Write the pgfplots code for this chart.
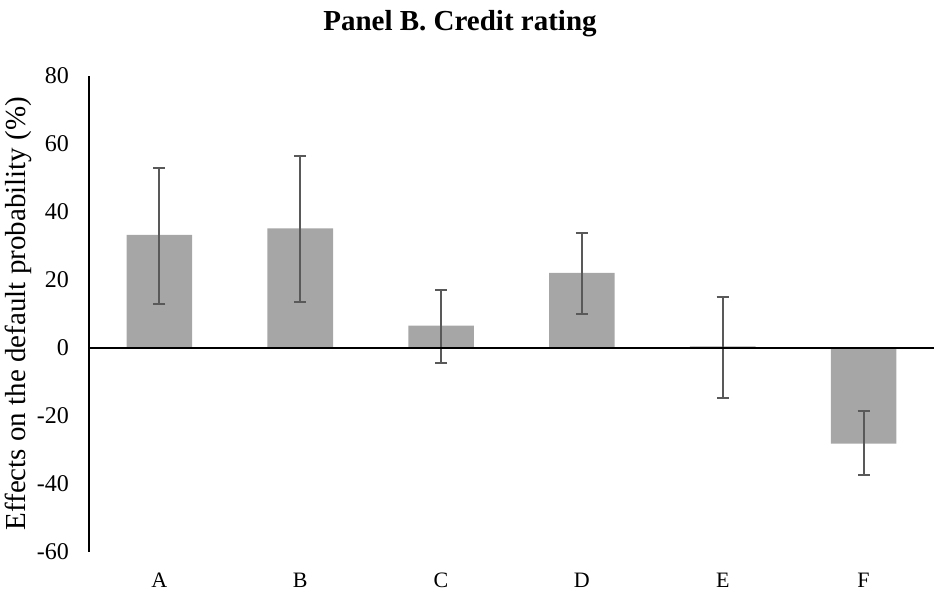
\documentclass[border=0pt]{standalone}
\usepackage{pgfplots}
\usepackage{pgfplotstable}
\pgfplotsset{compat=1.18}
\usepackage{fontspec}
\setmainfont{Liberation Serif}
\definecolor{bargray}{HTML}{A6A6A6}
\definecolor{errgray}{HTML}{595959}
\pgfplotstableread{
x y ep em
0 33.2 19.8 20.2
1 35.1 21.3 21.8
2 6.5 10.6 10.9
3 22.0 11.8 12.2
4 0.4 14.6 15.2
5 -28.2 9.7 9.1
}\datatable
\begin{document}
\begin{tikzpicture}
\path[use as bounding box] (-44.5pt,-22.15pt) rectangle (422.5pt,275.85pt);
\begin{axis}[
  at={(0,0)}, anchor=south west,
  scale only axis,
  width=422.5pt, height=238pt,
  xmin=-0.5, xmax=5.5,
  ymin=-60, ymax=80,
  ytick={-60,-40,...,80},
  xtick={0,1,2,3,4,5},
  xticklabels={A,B,C,D,E,F},
  axis y line=left,
  axis x line=bottom,
  x axis line style={draw=none},
  y axis line style={-, line width=0.9pt, black},
  major tick length=0pt,
  tick style={draw=none},
  /pgf/number format/assume math mode=true,
  yticklabel style={font=\fontsize{12}{14}\selectfont, xshift=-6.5pt},
  xticklabel style={font=\fontsize{11}{13}\selectfont, yshift=-7pt},
  ylabel={Effects on the default probability (\%)},
  ylabel style={font=\fontsize{14.5}{16}\selectfont, at={(axis description cs:0,0.5)}, anchor=center, yshift=35.5pt},
  clip=false,
]
\addplot[ybar, bar width=0.466, fill=bargray, draw=none,
  error bars/.cd, y dir=both, y explicit,
  error bar style={errgray, line width=1pt},
  error mark options={errgray, rotate=90, mark size=3pt, line width=1pt}]
  table[x=x, y=y, y error plus=ep, y error minus=em] {\datatable};
\draw[black, line width=1pt] (axis cs:-0.5,0) -- (axis cs:5.5,0);
\end{axis}
\node[font=\bfseries\fontsize{14.5}{16}\selectfont] at (185.5pt,264pt) {Panel B. Credit rating};
\end{tikzpicture}
\end{document}
